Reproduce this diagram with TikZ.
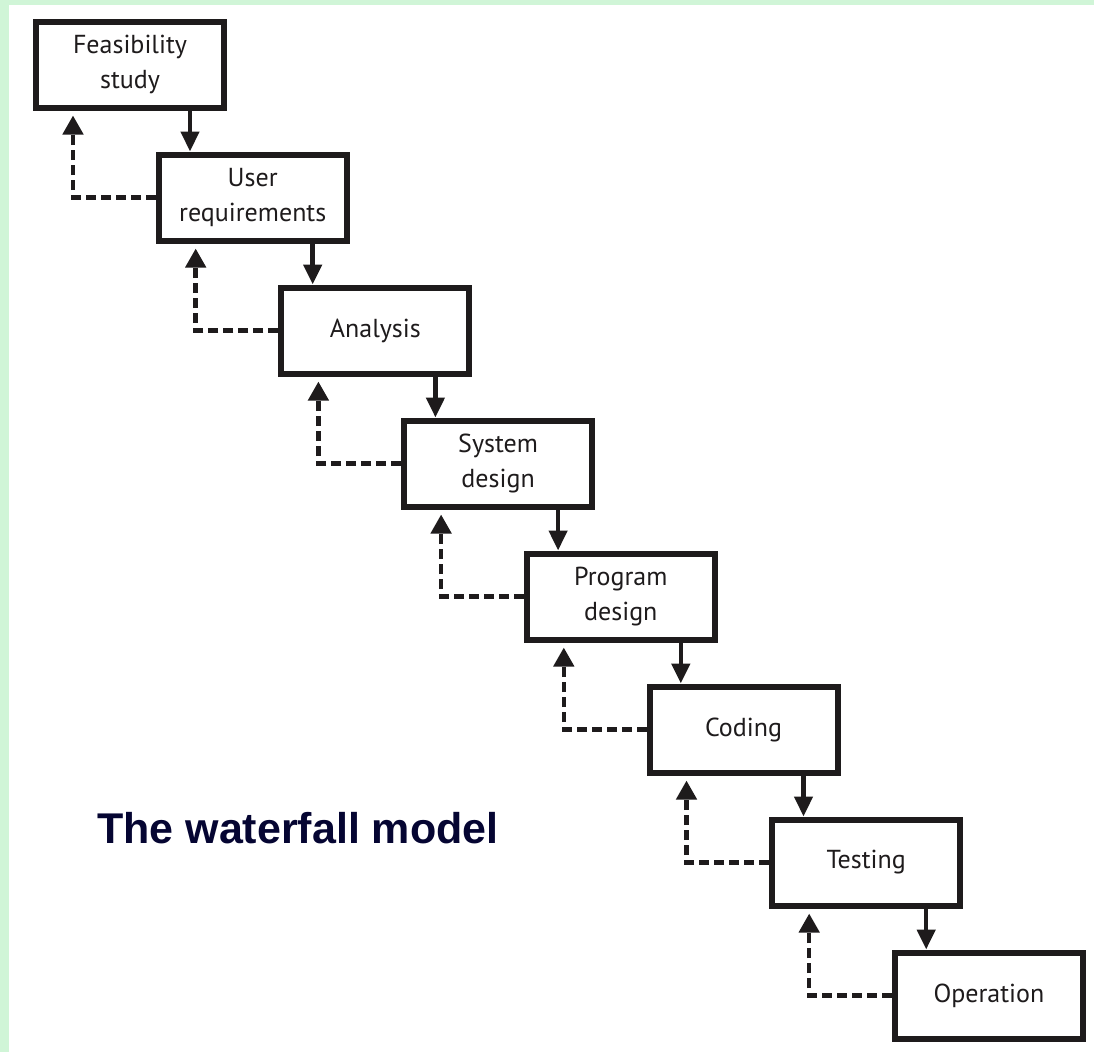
\documentclass[tikz,border=0pt]{standalone}
\usepackage{fontspec}
\setmainfont{PT Sans}
\newfontfamily\titlefont{Liberation Sans}
\usetikzlibrary{arrows.meta,calc}
\definecolor{mint}{RGB}{208,245,215}
\definecolor{ink}{RGB}{30,27,28}
\definecolor{navy}{RGB}{5,5,50}
\tikzset{
  stage/.style={draw=ink,line width=6pt,fill=white,minimum width=188pt,minimum height=86pt,
    align=center,text=ink,font=\fontsize{26}{35}\selectfont,inner sep=0pt},
  flow/.style={draw=ink,line width=4.5pt,-{Triangle[length=20pt,width=18pt]}},
  fb/.style={draw=ink,line width=4.5pt,dash pattern=on 10pt off 5pt,-{Triangle[length=19pt,width=20pt]}}
}
\begin{document}
\begin{tikzpicture}[x=1pt,y=-1pt]
\fill[mint] (0,0) rectangle (1094,1052);
\fill[white] (9,5) rectangle (1094,1052);
\useasboundingbox (0,0) rectangle (1094,1052);
\foreach \i/\t in {0/{Feasibility\\study},1/{User\\requirements},2/{Analysis},3/{System\\design},4/{Program\\design},5/{Coding},6/{Testing},7/{Operation}}{
  \node[stage] (b\i) at ({130+122.7*\i},{64.5+133*\i}) {\t};
}
\foreach \i [evaluate=\i as \j using int(\i+1)] in {0,...,6}{
  \path ($(b\i.south west)+(157,0)$) coordinate (d\i);
  \draw[flow] (d\i) -- (d\i |- b\j.north);
  \path ($(b\i.south west)+(40,5)$) coordinate (u\i);
  \draw[fb] (b\j.west) -| (u\i);
}
\node[anchor=base west,text=navy,font=\titlefont\bfseries\fontsize{43}{50}\selectfont,inner sep=0pt] (title) at (97,843) {The waterfall model};
\end{tikzpicture}
\end{document}
